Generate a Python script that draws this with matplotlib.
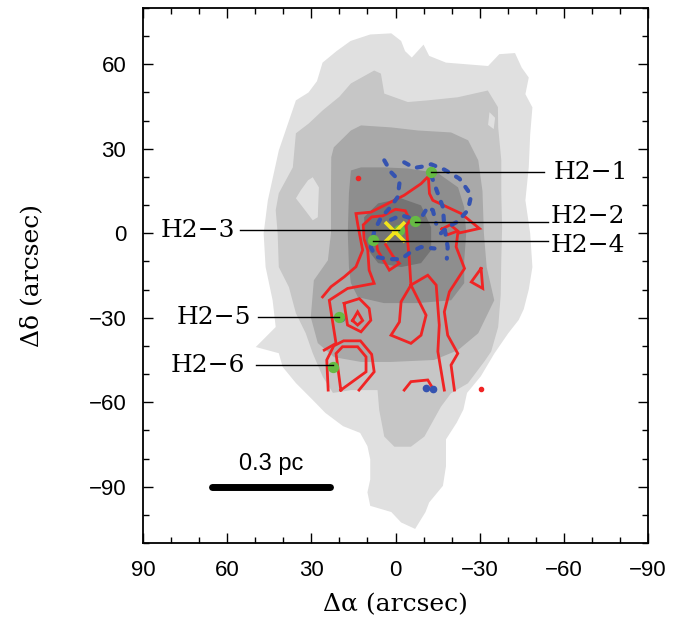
import numpy as np
import matplotlib.pyplot as plt
from matplotlib.ticker import MultipleLocator

# ---- grey-scale map: outlines of the filled levels (arcsec offsets) ----
lvl1_ra = [26, 21, 16, 9, 1.5, -2, -3.4, -5.8, -10, -12, -18, -25.5, -33, -37,
           -42.6, -45, -47.5, -46.3, -48.8, -48, -47.5, -46.3, -48, -48.8, -47.5,
           -45.7, -43.9, -40.2, -35.3, -30.4, -25.5, -24.2, -21.8, -18, -18, -16.9,
           -12, -10.7, -7, -2, 1.5, 9, 10, 9, 9, 10, 12.6, 18.7, 25, 29.5, 35.5,
           40.2, 41.6, 49.8, 42.7, 43.8, 46.3, 47, 45.5, 41.6, 35.5, 31, 28]
lvl1_dec = [60.6, 64.7, 68.3, 70.6, 71, 68.3, 64.7, 62.4, 67, 63, 60.6, 60, 59.4,
            63.6, 64, 58.8, 55.3, 49.4, 44.7, 35, 23.5, 11.7, 0, -12, -20, -27,
            -30.8, -35.5, -42.6, -50.8, -56.7, -62.6, -67.3, -73.2, -82.7, -89.7,
            -95.6, -99, -105, -102.7, -99, -96.8, -92, -87.4, -80.3, -75.6, -70.9,
            -68.5, -63.8, -59.2, -53.2, -47.5, -42.6, -40.4, -33.3, -23.8, -12, 0,
            11.7, 29.4, 47.2, 50, 54]

lvl2_ra = [26, 20, 15.9, 7.6, 5.2, 4, -4.4, -11.5, -22.2, -32.9, -36.5, -36.6,
           -37.7, -37.7, -38, -37.7, -37.5, -36.6, -34.1, -31.7, -25.8, -19.8,
           -16.2, -10.3, -5.5, 0.4, 4, 5.8, 6.4, 15.9, 22.3, 25.9, 29.5, 32, 35.5,
           38, 41.6, 42, 42.7, 41.6, 36.6, 35.5, 30.9]
lvl2_dec = [43.6, 48.5, 53.2, 57.8, 56.7, 49.6, 46.6, 47.2, 48.3, 50.7, 44.8, 37.6,
            26, 14.2, 2, -9.6, -22, -33.3, -42, -45.5, -53.3, -56.8, -61.6, -72.2,
            -75.8, -75.8, -72.2, -62.8, -55.7, -55.7, -56.7, -51, -42.6, -35.5,
            -28.4, -19.1, -12, 0, 8.2, 14.2, 23.4, 35.5, 39]

lvl3_ra = [22.9, 22, 15.9, 12.3, 1.6, -8, -19.8, -25.9, -29.5, -31, -31.5, -32.5,
           -35.2, -29.5, -22.3, -13.8, 1.6, 12.3, 21.9, 27.7, 30.2, 29.1, 24.1, 23, 23]
lvl3_dec = [27, 30.5, 36.5, 38.3, 37.6, 36.5, 35.8, 33, 25.9, 15, 0, -12, -23.8,
            -35.5, -41.5, -45, -45.7, -45.7, -44, -39, -29.8, -16.7, -9.6, 0, 15]

lvl4_ra = [15.9, 12.3, 4.1, -4.5, -15.2, -22.3, -24.5, -25.2, -24.5, -24.5, -19.8,
           -8, 4.1, 13.4, 15.9, 16.6, 17, 16.6]
lvl4_dec = [22.3, 23.4, 23.4, 23, 21.3, 16.3, 9.2, 0, -9.6, -17.7, -23.8, -24.8,
            -24.8, -22.7, -17.7, -12, 0, 14.2]

lvl5_ra = [11.2, 6.2, -2, -9.1, -12.7, -12.7, -9.1, -2, 6.2, 10.5]
lvl5_dec = [5.7, 10.6, 12.4, 9.9, 2.1, -6, -10.6, -12, -10.6, -5]

hole_ra = [29.5, 27.3, 27.7, 29.5, 33, 35.5, 33.8, 31.2]
hole_dec = [19.9, 16.3, 5.7, 4.6, 9.2, 12.4, 15.2, 18.8]
hole2_ra = [-33.5, -35.5, -35, -33]
hole2_dec = [43, 41, 37, 38.5]

grey_levels = ['#e0e0e0', '#c6c6c6', '#a9a9a9', '#8e8e8e', '#747474']

# ---- red (solid) contours ----
red_lines = [
    ([26, 23, 18.3, 14.1, 11.7, 13.5, 14.1, 8.8, 4, -3.1, -9.1, -11.7, -12.1, -13.3,
      -23.4, -29.9, -22.2, -21.6, -24.6, -19.2, -17.4, -18.6, -22.2, -19.8, -21],
     [-22.6, -19, -15.5, -11.9, -6, 3.4, 7, 7.5, 9.9, 13.5, 17.6, 20.2, 14.1, 11.7,
      7, 1.7, 0, -4.8, -12.5, -20.8, -27.9, -36.2, -42.7, -46.8, -55.7]),
    ([25.4, 21.2, 22.4, 23.6, 17.1, 7.6, 9.4, 9.9, 11.2, 11.5, 8.5, 4.5, 0, -3.5,
      -5.2, -3.8, -4.9, -5.5, -11.5, -14.5, -15.6, -15.1, -17.4],
     [-41.5, -39.1, -31.5, -23.8, -19.6, -17.8, -13.1, -6, -2, 3, 5.8, 6.2, 8.5, 8,
      4.5, 2.8, -9, -18.4, -14.9, -18.4, -32.6, -42, -55.7]),
    ([7, 6.4, 4, 2.2, -1.4, 1, 3.5], [-2, -6, -10, -13.1, -10.7, -8, -4]),
    ([-5.5, -2, -1.4, 1.6, -5.5, -9.1, -10.9, -5.5],
     [-18.4, -24.3, -31.5, -36.2, -39.1, -36.2, -29.1, -18.4]),
    ([18.3, 12.9, 9.4, 8.8, 12.3, 17.1, 18.3], [-24.9, -23.2, -26.7, -30.9, -35, -32.6, -24.9]),
    ([15.3, 13.5, 11.7, 13.5, 15.3], [-31, -27.9, -31, -32.6, -31]),
    ([24, 24.5, 22, 18.5, 12.5, 8.5, 7.6, 13], [-55.7, -45, -40, -38.2, -38.2, -43, -49.2, -55.7]),
    ([19.5, 21.2, 18.9, 13.5, 10.5, 10.5, 19.5], [-55.7, -42.7, -40.3, -40.3, -43.9, -49.2, -55.7]),
    ([-3.1, -5.5, -11.5, -13.3], [-55.7, -52.7, -52.1, -55.1]),
    ([-30.5, -27, -31.1, -30.5], [-12.5, -17.3, -19.6, -12.5]),
    ([-16.5, -19.5, -22.2, -18.6, -16.5], [1.5, 3, 0.8, -0.5, 1.5]),
]
red_dots_ra = [13.4, -30.5]
red_dots_dec = [19.5, -55.4]

# ---- blue (dashed) contours ----
blue_lines = [
    ([4, 1.6, -1.5, -0.8, 1.6, 5.2, 7.5, 8.8, 7, 2.2, -2, -5.5, -9.1, -13.9],
     [25.9, 21.7, 18.5, 12.9, 9.5, 5.5, 1, -5, -8.4, -9.2, -9.2, -6.6, -4.9, -5.4]),
    ([-3.1, -6.7, -10.3, -12.7, -17.4, -22.8, -27, -25.8, -22.2, -18.6, -16.2],
     [25.2, 23.2, 23.8, 24.5, 22.6, 19.4, 13.5, 8.2, 4.2, 2.2, 0]),
    ([-12.7, -15.1, -16.9, -17.4, -18.6, -18.3], [20.6, 14.1, 9.3, 2.2, -4.9, -9]),
    ([1.6, -2, -6.7], [4.8, 6.4, 5]),
    ([-9.8, -11.5, -13.3, -14.5], [6.5, 9.3, 8.2, 3.4]),
]
blue_dots_ra = [19.5, -10.9, -13.3]
blue_dots_dec = [-30.2, -55.1, -55.3]

# ---- H2 knots ----
knot_names = ['H2\u22121', 'H2\u22122', 'H2\u22123', 'H2\u22124', 'H2\u22125', 'H2\u22126']
knot_ra = [-12.7, -7, -1.4, 8.1, 20.1, 22.4]
knot_dec = [21.7, 4.4, 1.3, -2.5, -29.7, -47.4]
line_end_ra = [-52.8, -54.5, 55.5, -54.5, 49.1, 49.7]
line_dec = [21.7, 4.0, 1.0, -2.6, -29.9, -46.8]
text_ra = [-56.3, -55.3, 57.0, -55.3, 51.6, 53.5]
text_dec = [21.7, 6.0, 1.0, -4.4, -29.9, -46.8]

center_ra, center_dec = 0.3, 0.5
bar_ra = [65.5, 23.3]
bar_dec = -90

fig = plt.figure(figsize=(6.89, 6.18), dpi=100)
ax = fig.add_axes([143 / 689, 1 - 543 / 618, 505 / 689, 535 / 618])

levels = [(lvl1_ra, lvl1_dec), (lvl2_ra, lvl2_dec), (lvl3_ra, lvl3_dec),
          (lvl4_ra, lvl4_dec), (lvl5_ra, lvl5_dec)]
for (ra, dec), col in zip(levels, grey_levels):
    ax.fill(ra, dec, color=col, lw=0, zorder=1)
ax.fill(hole_ra, hole_dec, color=grey_levels[0], lw=0, zorder=1)
ax.fill(hole2_ra, hole2_dec, color=grey_levels[0], lw=0, zorder=1)

for ra, dec in red_lines:
    ax.plot(ra, dec, color='#f02424', lw=2.0, zorder=3, solid_joinstyle='miter')
ax.plot(red_dots_ra, red_dots_dec, 'o', color='#f02424', ms=3, zorder=3)

for ra, dec in blue_lines:
    ax.plot(ra, dec, color='#3553b0', lw=3.0, ls=(0, (1.2, 2.2)),
            dash_capstyle='round', zorder=4)
ax.plot(blue_dots_ra, blue_dots_dec, 'o', color='#3553b0', ms=4.5, zorder=4)

ax.scatter(knot_ra, knot_dec, s=66, color='#66bb44', lw=0, zorder=5)
ax.plot(center_ra, center_dec, 'x', color='#f2e51c', ms=15, mew=2.6, zorder=6)

for name, kra, lra, ldec, tra, tdec in zip(knot_names, knot_ra, line_end_ra,
                                            line_dec, text_ra, text_dec):
    ax.plot([kra, lra], [ldec, ldec], color='black', lw=1.0, zorder=7)
    ax.text(tra, tdec, name, fontsize=18, family='DejaVu Serif',
            ha='left' if tra < 0 else 'right', va='center', zorder=8)

ax.plot(bar_ra, [bar_dec, bar_dec], color='black', lw=5, solid_capstyle='round', zorder=7)
ax.text(np.mean(bar_ra), bar_dec + 4, '0.3 pc', fontsize=17, family='Liberation Sans',
        ha='center', va='bottom')

ax.set_xlim(90, -90)
ax.set_ylim(-110, 80)
ax.xaxis.set_major_locator(MultipleLocator(30))
ax.xaxis.set_minor_locator(MultipleLocator(10))
ax.yaxis.set_major_locator(MultipleLocator(30))
ax.yaxis.set_minor_locator(MultipleLocator(10))
ax.tick_params(which='both', direction='in', top=True, right=True, width=1.0)
ax.tick_params(which='major', length=7, pad=12, labelsize=16)
ax.tick_params(which='minor', length=4)
for lab in ax.get_xticklabels() + ax.get_yticklabels():
    lab.set_family('Liberation Sans')
for sp in ax.spines.values():
    sp.set_linewidth(1.3)

ax.set_xlabel('\u0394\u03b1 (arcsec)', fontsize=18, family='DejaVu Serif', labelpad=9)
ax.set_ylabel('\u0394\u03b4 (arcsec)', fontsize=18, family='DejaVu Serif', labelpad=33)

fig.savefig('out.png', dpi=100)
